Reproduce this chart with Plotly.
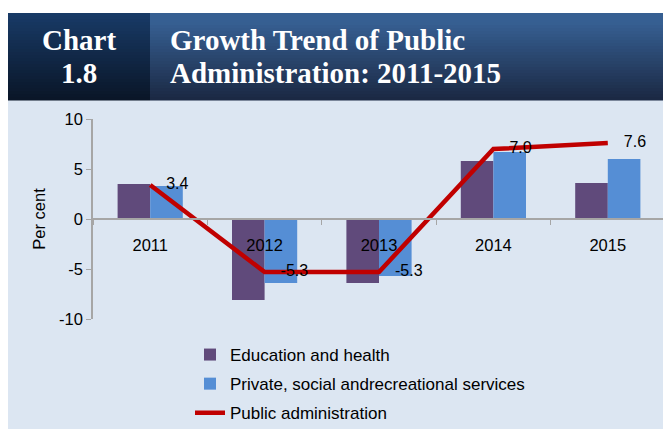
import plotly.graph_objects as go

# ---------------- data ----------------
years = ["2011", "2012", "2013", "2014", "2015"]
education_health = [3.5, -8.1, -6.4, 5.8, 3.6]
private_social = [3.3, -6.4, -5.7, 6.7, 6.0]
public_admin = [3.4, -5.3, -5.3, 7.0, 7.6]
y_ticks = [10, 5, 0, -5, -10]

# ---------------- geometry helpers (screen pixels -> paper) ----------------
# the page body has an 8px margin, so the figure sits at (8, 8) on screen
OX, OY = 8, 8
W, H = 671 - OX, 429 - OY
P_LEFT, P_RIGHT, P_TOP, P_BOTTOM = 93, 665, 119, 319   # plot area on screen
ML, MR = P_LEFT - OX, 671 - P_RIGHT
MT, MB = P_TOP - OY, 429 - P_BOTTOM
PW, PH = P_RIGHT - P_LEFT, P_BOTTOM - P_TOP


def px(x):
    return (x - P_LEFT) / PW


def py(y):
    return (P_BOTTOM - y) / PH


def mix(c1, c2, t):
    return "rgb(%d,%d,%d)" % tuple(round(a + (b - a) * t) for a, b in zip(c1, c2))


fig = go.Figure()

fig.add_trace(go.Bar(
    x=years, y=education_health, name="Education and health",
    marker=dict(color="#604a7b", line=dict(width=0)), legendgroup="a",
))
fig.add_trace(go.Bar(
    x=years, y=private_social, name="Private, social andrecreational services",
    marker=dict(color="#558ed5", line=dict(width=0)), legendgroup="b",
))
fig.add_trace(go.Scatter(
    x=years, y=public_admin, name="Public administration",
    mode="lines+markers+text",
    line=dict(color="#c00000", width=4.5),
    marker=dict(size=24, color="rgba(0,0,0,0)"),
    text=["%.1f" % v for v in public_admin],
    textposition="middle right",
    textfont=dict(family="Liberation Sans, Arial", size=16, color="#000000"),
    legendgroup="c",
))

shapes = []
# light blue chart background
shapes.append(dict(type="rect", xref="paper", yref="paper", layer="below",
                   x0=px(7), x1=px(673), y0=py(100), y1=py(431),
                   fillcolor="#dce6f2", line=dict(width=0)))
# header gradient bands
n = 29
top, bot = 13, 100
step = (bot - top) / n
for i in range(n):
    t = i / (n - 1)
    y0 = top + i * step
    y1 = y0 + step + 0.6
    shapes.append(dict(type="rect", xref="paper", yref="paper", layer="below",
                       x0=px(7), x1=px(150), y0=py(y1), y1=py(y0),
                       fillcolor=mix((24, 58, 102), (10, 22, 40), t), line=dict(width=0)))
    tt = min(1.0, max(0.0, (t - 0.1) / 0.9))
    shapes.append(dict(type="rect", xref="paper", yref="paper", layer="below",
                       x0=px(150), x1=px(673), y0=py(y1), y1=py(y0),
                       fillcolor=mix((54, 95, 146), (27, 41, 68), tt), line=dict(width=0)))

serif = "Liberation Serif, Times New Roman, serif"
annotations = [
    dict(text="<b>Chart</b>", x=px(79), y=py(40), xref="paper", yref="paper",
         xanchor="center", yanchor="middle", showarrow=False,
         font=dict(family=serif, size=29, color="white")),
    dict(text="<b>1.8</b>", x=px(79), y=py(73), xref="paper", yref="paper",
         xanchor="center", yanchor="middle", showarrow=False,
         font=dict(family=serif, size=29, color="white")),
    dict(text="<b>Growth Trend of Public</b>", x=px(168), y=py(40), xref="paper", yref="paper",
         xanchor="left", yanchor="middle", showarrow=False,
         font=dict(family=serif, size=29, color="white")),
    dict(text="<b>Administration: 2011-2015</b>", x=px(168), y=py(73), xref="paper", yref="paper",
         xanchor="left", yanchor="middle", showarrow=False,
         font=dict(family=serif, size=29, color="white")),
]

fig.update_layout(
    width=W, height=H,
    margin=dict(l=ML, r=MR, t=MT, b=MB, pad=0, autoexpand=False),
    paper_bgcolor="white",
    plot_bgcolor="rgba(0,0,0,0)",
    font=dict(family="Liberation Sans, Arial, sans-serif", size=16, color="#000000"),
    barmode="group", bargap=0.43, bargroupgap=0,
    showlegend=True,
    legend=dict(x=px(190), y=py(337), xanchor="left", yanchor="top",
                bgcolor="rgba(0,0,0,0)", borderwidth=0,
                font=dict(size=17, color="#000000"),
                traceorder="grouped", tracegroupgap=4, itemwidth=30),
    shapes=shapes,
    annotations=annotations,
    xaxis=dict(type="category", anchor="free", position=0.5,
               showline=True, linecolor="#a6a6a6", linewidth=1.5,
               ticks="outside", tickson="boundaries", ticklen=5, tickcolor="#a6a6a6",
               ticklabelstandoff=11, showgrid=False, zeroline=False,
               tickfont=dict(size=16.5)),
    yaxis=dict(range=[-10, 10], tickvals=y_ticks, ticktext=[str(v) for v in y_ticks],
               showline=True, linecolor="#a6a6a6", linewidth=1.5,
               ticks="outside", ticklen=5, tickcolor="#a6a6a6",
               showgrid=False, zeroline=False,
               title=dict(text="Per cent", font=dict(size=16.5), standoff=9),
               tickfont=dict(size=16.5)),
)

fig.write_html("out.html")
